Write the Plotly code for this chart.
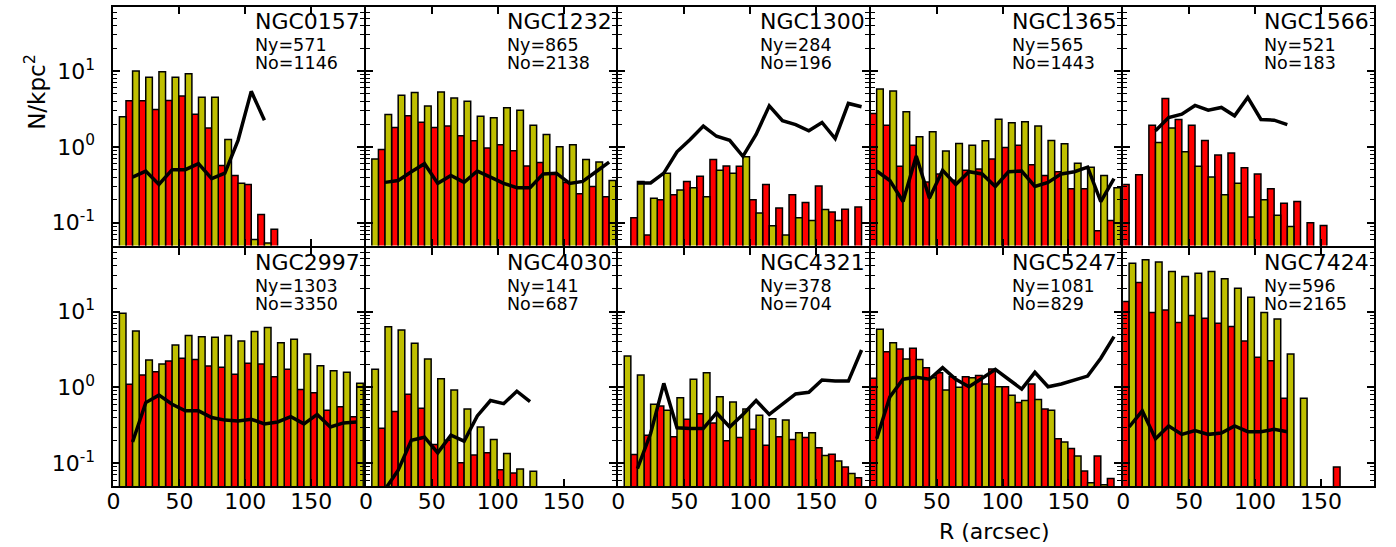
import plotly.graph_objects as go

# ---------------- data ----------------
galaxies = ["NGC0157", "NGC1232", "NGC1300", "NGC1365", "NGC1566",
            "NGC2997", "NGC4030", "NGC4321", "NGC5247", "NGC7424"]
ny_counts = [571, 865, 284, 565, 521, 1303, 141, 378, 1081, 596]
no_counts = [1146, 2138, 196, 1443, 183, 3350, 687, 704, 829, 2165]

# bin centres (arcsec)
r_bins = [4.5, 14.5, 24.5, 34.5, 44.5, 54.5, 64.5, 74.5, 84.5, 94.5,
          104.5, 114.5, 124.5, 134.5, 144.5, 154.5, 164.5, 174.5, 184.5]

red_ngc0157 = [0, 4.05, 4.05, 3.1, 4.1, 4.7, 2.7, 1.77, 0.57, 0.42, 0.32, 0.128, 0.082, 0, 0, 0, 0, 0, 0]
yel_ngc0157 = [2.5, 10, 8.3, 9.8, 8.3, 9.2, 4.5, 4.5, 1.25, 0.33, 0.06, 0.054, 0, 0, 0, 0, 0, 0, 0]
rat_ngc0157 = [None, 0.40, 0.48, 0.32, 0.50, 0.50, 0.60, 0.38, 0.45, 1.22, 5.4, 2.25,
               None, None, None, None, None, None, None]

red_ngc1232 = [0, 0.92, 1.80, 2.57, 2.12, 1.80, 1.88, 1.40, 1.20, 0.97, 1.07, 0.89, 0.56, 0.62, 0.44, 0.34, 0.24, 0.30, 0.22]
yel_ngc1232 = [0.69, 2.67, 4.8, 5.2, 3.45, 5.3, 4.4, 4.0, 2.54, 2.42, 3.28, 3.05, 1.93, 1.46, 1.0, 1.07, 0.68, 0.63, 0.36]
rat_ngc1232 = [None, 0.34, 0.36, 0.47, 0.60, 0.33, 0.42, 0.34, 0.48, 0.40, 0.33, 0.29, 0.29, 0.44, 0.45, 0.33, 0.35, 0.47, 0.63]

red_ngc1300 = [0, 0.116, 0.069, 0.20, 0.234, 0.35, 0.41, 0.68, 0.56, 0.555, 0.20, 0.32, 0.156, 0.234, 0.184, 0.305, 0.138, 0.15, 0.161]
yel_ngc1300 = [0, 0.35, 0.21, 0.45, 0.27, 0.29, 0.22, 0.49, 0.45, 0.74, 0.134, 0.091, 0.069, 0.116, 0.107, 0.149, 0.107, 0, 0]
rat_ngc1300 = [None, 0.334, 0.334, 0.45, 0.86, 1.25, 1.88, 1.38, 1.22, 0.75, 1.46, 3.48, 2.21, 1.97, 1.63, 2.10, 1.29, 3.74, 3.38]

red_ngc1365 = [2.76, 1.93, 0.555, 1.05, 0.344, 0.44, 0.363, 0.49, 0.51, 0.69, 0.98, 1.05, 0.58, 0.42, 0.47, 0.28, 0.28, 0.078, 0.107]
yel_ngc1365 = [5.78, 5.44, 2.90, 1.36, 1.58, 0.885, 1.11, 1.05, 1.20, 2.32, 2.08, 2.14, 1.89, 1.21, 1.10, 0.61, 0.54, 0.42, 0.29]
rat_ngc1365 = [0.48, 0.36, 0.19, 0.76, 0.21, 0.49, 0.32, 0.47, 0.44, 0.30, 0.47, 0.48, 0.30, 0.34, 0.44, 0.47, 0.54, 0.19, 0.38]

red_ngc1566 = [0.32, 0.43, 1.93, 4.35, 2.30, 1.93, 1.21, 0.78, 0.83, 0.53, 0.44, 0.28, 0.18, 0.19, 0.10, 0.092, 0, 0, 0]
yel_ngc1566 = [0, 0, 1.14, 1.78, 0.86, 0.555, 0.40, 0.234, 0.33, 0.119, 0.20, 0.125, 0.089, 0, 0, 0, 0, 0, 0]
rat_ngc1566 = [None, None, 1.63, 2.44, 2.70, 3.52, 3.05, 3.31, 2.57, 4.49, 2.30, 2.25, 1.97,
               None, None, None, None, None, None]

red_ngc2997 = [0, 1.10, 1.46, 1.61, 2.23, 2.42, 2.34, 1.91, 1.84, 1.49, 2.08, 2.03, 1.38, 1.73, 0.94, 0.85, 0.50, 0.555, 0.41]
yel_ngc2997 = [9.5, 5.55, 2.30, 2.03, 3.63, 4.82, 4.67, 4.58, 4.82, 4.10, 5.44, 6.15, 3.89, 4.31, 2.76, 1.93, 1.66, 1.58, 1.13]
rat_ngc2997 = [None, 0.19, 0.63, 0.79, 0.60, 0.49, 0.49, 0.40, 0.37, 0.36, 0.38, 0.33, 0.35, 0.41, 0.33, 0.44, 0.30, 0.34, 0.35]

red_ngc4030 = [0, 0.29, 0.48, 0.81, 0.53, 0.177, 0.20, 0.101, 0.128, 0.137, 0.082, 0.074, 0, 0, 0, 0, 0, 0, 0]
yel_ngc4030 = [1.73, 6.3, 5.7, 3.81, 2.37, 1.30, 0.92, 0.52, 0.30, 0.206, 0.134, 0.084, 0.078, 0, 0, 0, 0, 0, 0]
rat_ngc4030 = [None, 0.045, 0.081, 0.20, 0.22, 0.137, 0.234, 0.195, 0.42, 0.67, 0.61, 0.89, 0.65,
               None, None, None, None, None, None]

red_ngc4321 = [0, 0.13, 0.234, 0.57, 0.223, 0.38, 0.45, 0.34, 0.197, 0.218, 0.28, 0.173, 0.223, 0.206, 0.218, 0.16, 0.131, 0.089, 0.064]
yel_ngc4321 = [2.59, 1.46, 0.60, 0.50, 0.73, 1.28, 1.56, 0.75, 0.64, 0.52, 0.43, 0.385, 0.37, 0.252, 0.252, 0.126, 0.107, 0.073, 0]
rat_ngc4321 = [None, 0.085, 0.246, 1.13, 0.293, 0.287, 0.287, 0.46, 0.30, 0.44, 0.67, 0.44, 0.60, 0.82, 0.86, 1.25, 1.21, 1.21, 3.11]

red_ngc5247 = [1.32, 2.96, 3.21, 3.28, 1.82, 1.56, 1.38, 1.38, 1.43, 1.75, 1.02, 0.63, 1.11, 0.52, 0.21, 0.156, 0.079, 0.124, 0.063]
yel_ngc5247 = [5.84, 3.89, 2.37, 2.34, 1.34, 0.92, 1.0, 1.34, 1.11, 1.02, 0.79, 0.67, 0.69, 0.50, 0.19, 0.124, 0.055, 0.052, 0]
rat_ngc5247 = [0.21, 0.75, 1.28, 1.36, 1.28, 1.82, 1.28, 1.02, 1.32, 1.73, 1.28, 0.95, 1.58, 1.02, 1.11, 1.25, 1.41, 2.42, 4.67]

red_ngc7424 = [13.6, 24.2, 9.7, 10.5, 7.16, 8.85, 8.16, 7.01, 6.34, 4.10, 2.49, 2.25, 0.72, 0, 0, 0, 0.089, 0, 0]
yel_ngc7424 = [43.5, 48.2, 44.9, 33.8, 29.0, 32.1, 33.8, 27.0, 20.3, 15.5, 9.7, 8.0, 2.76, 0.72, 0, 0, 0, 0, 0]
rat_ngc7424 = [0.30, 0.49, 0.21, 0.31, 0.24, 0.27, 0.24, 0.25, 0.31, 0.26, 0.26, 0.28, 0.26,
               None, None, None, None, None, None]

red_all = [red_ngc0157, red_ngc1232, red_ngc1300, red_ngc1365, red_ngc1566,
           red_ngc2997, red_ngc4030, red_ngc4321, red_ngc5247, red_ngc7424]
yel_all = [yel_ngc0157, yel_ngc1232, yel_ngc1300, yel_ngc1365, yel_ngc1566,
           yel_ngc2997, yel_ngc4030, yel_ngc4321, yel_ngc5247, yel_ngc7424]
rat_all = [rat_ngc0157, rat_ngc1232, rat_ngc1300, rat_ngc1365, rat_ngc1566,
           rat_ngc2997, rat_ngc4030, rat_ngc4321, rat_ngc5247, rat_ngc7424]

# ---------------- styling / layout ----------------
W, H = 1396, 547
FONT = "DejaVu Sans"
RED = "#FF0000"
YEL = "#BFBF00"
BAR_W = 5.0

col_left = [107 + 253.7 * c for c in range(5)]
col_w = 251.75
row_px = [(7, 245.5), (247.5, 486)]

minor_vals = ([0.05, 0.06, 0.07, 0.08, 0.09] + [0.2, 0.3, 0.4, 0.5, 0.6, 0.7, 0.8, 0.9]
              + [2, 3, 4, 5, 6, 7, 8, 9] + [20, 30, 40, 50, 60, 70])

fig = go.Figure()
layout = dict(
    width=W, height=H,
    margin=dict(l=0, r=0, t=0, b=0),
    paper_bgcolor="white", plot_bgcolor="white",
    showlegend=False, barmode="overlay",
    font=dict(family=FONT, size=22, color="black"),
)
annotations = []

for i, name in enumerate(galaxies):
    row, col = divmod(i, 5)
    n = i + 1
    xs = "" if n == 1 else str(n)
    xa, ya = "x" + xs, "y" + xs

    red_x = [c - BAR_W / 2 for c, v in zip(r_bins, red_all[i]) if v > 0]
    red_y = [v for v in red_all[i] if v > 0]
    yel_x = [c + BAR_W / 2 for c, v in zip(r_bins, yel_all[i]) if v > 0]
    yel_y = [v for v in yel_all[i] if v > 0]

    fig.add_trace(go.Bar(x=red_x, y=red_y, width=BAR_W, xaxis=xa, yaxis=ya,
                         marker=dict(color=RED, line=dict(color="black", width=1.5))))
    fig.add_trace(go.Bar(x=yel_x, y=yel_y, width=BAR_W, xaxis=xa, yaxis=ya,
                         marker=dict(color=YEL, line=dict(color="black", width=1.5))))
    fig.add_trace(go.Scatter(x=r_bins, y=rat_all[i], mode="lines", xaxis=xa, yaxis=ya,
                             line=dict(color="black", width=3.5)))

    x0 = col_left[col]
    top, bot = row_px[row]
    layout["xaxis" + xs] = dict(
        domain=[x0 / W, (x0 + col_w) / W], anchor=ya, range=[0, 190],
        showline=True, linecolor="black", linewidth=2, mirror="allticks",
        ticks="inside", ticklen=7, tickwidth=1.5, tickcolor="black",
        tickvals=[0, 50, 100, 150], ticktext=["0", "50", "100", "150"],
        showticklabels=(row == 1), ticklabelstandoff=-5,
        tickfont=dict(family=FONT, size=22, color="black"),
        showgrid=False, zeroline=False, fixedrange=True,
    )
    layout["yaxis" + xs] = dict(
        domain=[1 - bot / H, 1 - top / H], anchor=xa, type="log",
        range=[-1.30103, 1.845098],
        showline=True, linecolor="black", linewidth=2, mirror="allticks",
        ticks="inside", ticklen=7, tickwidth=1.5, tickcolor="black",
        tickvals=[0.1, 1, 10],
        ticktext=["10<sup>-1</sup>", "10<sup>0</sup>", "10<sup>1</sup>"],
        showticklabels=(col == 0), ticklabelstandoff=12,
        tickfont=dict(family=FONT, size=22, color="black"),
        minor=dict(ticks="inside", ticklen=4, tickwidth=1.2, tickcolor="black",
                   tickvals=minor_vals, showgrid=False),
        showgrid=False, zeroline=False, fixedrange=True,
    )

    xd, yd = xa + " domain", ya + " domain"
    annotations.append(dict(text=name, xref=xd, yref=yd, x=0.556, y=0.939,
                            xanchor="left", yanchor="middle", showarrow=False,
                            font=dict(family=FONT, size=22, color="black")))
    annotations.append(dict(text="Ny=%d" % ny_counts[i], xref=xd, yref=yd, x=0.556, y=0.84,
                            xanchor="left", yanchor="middle", showarrow=False,
                            font=dict(family=FONT, size=17.5, color="black")))
    annotations.append(dict(text="No=%d" % no_counts[i], xref=xd, yref=yd, x=0.556, y=0.764,
                            xanchor="left", yanchor="middle", showarrow=False,
                            font=dict(family=FONT, size=17.5, color="black")))

annotations.append(dict(text="N/kpc<sup>2</sup>", xref="paper", yref="paper",
                        x=28 / W, y=1 - 92 / H, xanchor="center", yanchor="middle",
                        textangle=-90, showarrow=False,
                        font=dict(family=FONT, size=23, color="black")))
annotations.append(dict(text="R (arcsec)", xref="paper", yref="paper",
                        x=992 / W, y=1 - 531 / H, xanchor="center", yanchor="middle",
                        showarrow=False, font=dict(family=FONT, size=22, color="black")))

layout["annotations"] = annotations
fig.update_layout(**layout)
fig.write_html("out.html")
